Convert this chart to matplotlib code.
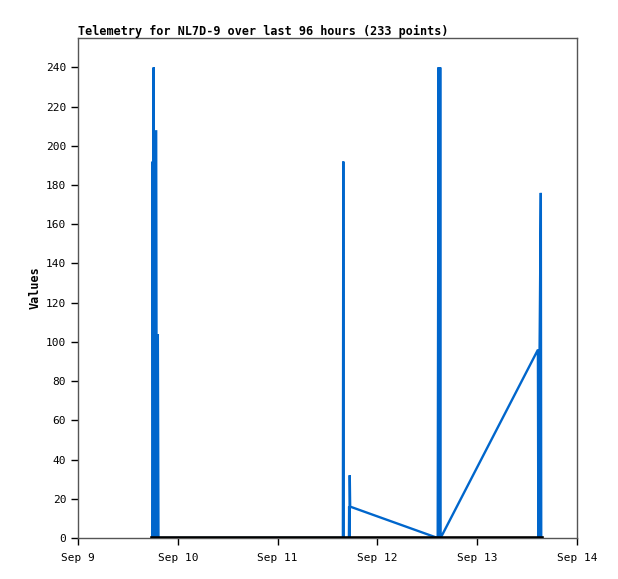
import datetime as dt
import matplotlib
matplotlib.use("Agg")
import matplotlib.pyplot as plt
import matplotlib.dates as mdates

# hours after Sep 9 00:00 and the telemetry value at that time
hours = [17.9, 17.95, 18.05, 18.2, 18.35, 18.8, 18.95, 19.2, 19.35,
         30.0, 40.0, 50.0, 63.7, 63.8, 63.9,
         65.15, 65.2, 65.3, 65.35, 65.45,
         86.5, 86.7, 86.8, 86.9, 87.0, 87.1, 87.2,
         110.6, 110.7, 110.8, 110.9, 111.0, 111.3, 111.4, 111.5]
values = [0, 192, 0, 240, 0, 208, 0, 104, 0,
          0, 0, 0, 0, 192, 0,
          0, 16, 0, 32, 16,
          0, 240, 0, 240, 0, 240, 0,
          96, 0, 96, 0, 96, 176, 0, 0]

base = dt.datetime(2023, 9, 9)
times = [base + dt.timedelta(hours=h) for h in hours]

title = "Telemetry for NL7D-9 over last 96 hours (233 points)"
ylabel = "Values"
yticks = list(range(0, 241, 20))

plt.rcParams['font.family'] = ['DejaVu Sans Mono']

fig = plt.figure(figsize=(6.18, 5.79), dpi=100)
ax = fig.add_axes([78 / 618, 1 - 538 / 579, 499 / 618, 500 / 579])

ax.plot(times, values, color="#0066cc", lw=1.7, solid_joinstyle="bevel")
# zero baseline drawn over the data
ax.plot([times[0], times[-1]], [0, 0], color="black", lw=2.6, zorder=3)

ax.set_xlim(base, base + dt.timedelta(days=5))
ax.set_ylim(0, 255)
ax.set_yticks(yticks)
ax.xaxis.set_major_locator(mdates.DayLocator())
ax.xaxis.set_major_formatter(plt.FuncFormatter(
    lambda x, pos: "{:%b} {}".format(mdates.num2date(x), mdates.num2date(x).day)))

for s in ax.spines.values():
    s.set_color("#555555")
    s.set_linewidth(1)
ax.tick_params(axis="both", labelsize=8, length=5, width=1, color="black")
ax.tick_params(axis="x", pad=6)

ax.set_ylabel(ylabel, fontsize=8.5, fontweight="bold", labelpad=3)
ax.set_title(title, loc="left", fontsize=8.5, fontweight="bold", pad=2)

fig.savefig("out.png", dpi=100)
